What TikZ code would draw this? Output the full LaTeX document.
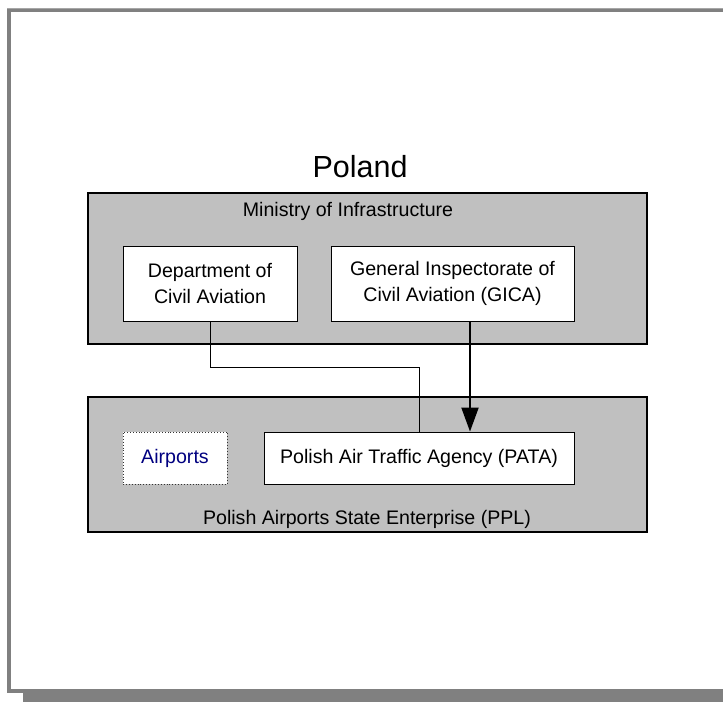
\documentclass[tikz,border=0pt]{standalone}
\usepackage{fontspec}
\setmainfont{Liberation Sans}
\usetikzlibrary{arrows.meta,calc}
\definecolor{framegray}{RGB}{128,128,128}
\definecolor{boxgray}{RGB}{192,192,192}
\definecolor{navytext}{RGB}{0,0,128}
\tikzset{
  txt/.style={font=\fontsize{19.6}{26}\selectfont, align=center},
  group/.style={draw=black, line width=2pt, fill=boxgray, inner sep=0pt},
  unit/.style={draw=black, line width=0.9pt, fill=white, inner sep=0pt, txt},
  dotunit/.style={draw=black!80, line width=0.9pt, dotted, fill=white, inner sep=0pt, txt},
  thinlink/.style={draw=black, line width=0.9pt},
  thicklink/.style={draw=black, line width=2pt, -{Triangle[length=24pt,width=17pt]}}
}
\begin{document}
\begin{tikzpicture}[x=1pt,y=-1pt]
\useasboundingbox (0,0) rectangle (723,702);
% frame
\fill[white] (7,8) rectangle (723,693);
\fill[framegray] (7,8) rectangle (11,693);
\fill[framegray] (7,8) rectangle (723,12);
\fill[black!35] (7,8) rectangle (723,9);
\fill[framegray] (7,689) rectangle (23,693);
\fill[framegray] (23,689) rectangle (723,702);
% title
\node[font=\fontsize{30.5}{36}\selectfont, anchor=base] (poland) at (360,177) {Poland};
% groups
\node[group, minimum width=559pt, minimum height=151pt] (ministry) at (367.5,268.5) {};
\node[txt, anchor=base] (ministrylbl) at (348,216) {Ministry of Infrastructure};
\node[group, minimum width=559pt, minimum height=135pt] (ppl) at (367.5,464.5) {};
\node[txt, anchor=base] (ppllbl) at (367,524) {Polish Airports State Enterprise (PPL)};
% units
\node[unit, minimum width=174pt, minimum height=75pt] (dept) at (210,283.5) {Department of\\Civil Aviation};
\node[unit, minimum width=243pt, minimum height=75pt] (gica) at (452.5,283.5) {General Inspectorate of\\Civil Aviation (GICA)};
\node[dotunit, minimum width=104pt, minimum height=52pt, text=navytext] (airports) at (175,458) {Airports};
\node[unit, minimum width=310pt, minimum height=52pt] (pata) at (419,458) {Polish Air Traffic Agency (PATA)};
% connectors
\draw[thinlink] (dept.south) -- ++(0,46) -| (pata.north);
\draw[thicklink] ([xshift=17.5pt]gica.south) -- ([xshift=17.5pt]gica.south |- pata.north);
\end{tikzpicture}
\end{document}
